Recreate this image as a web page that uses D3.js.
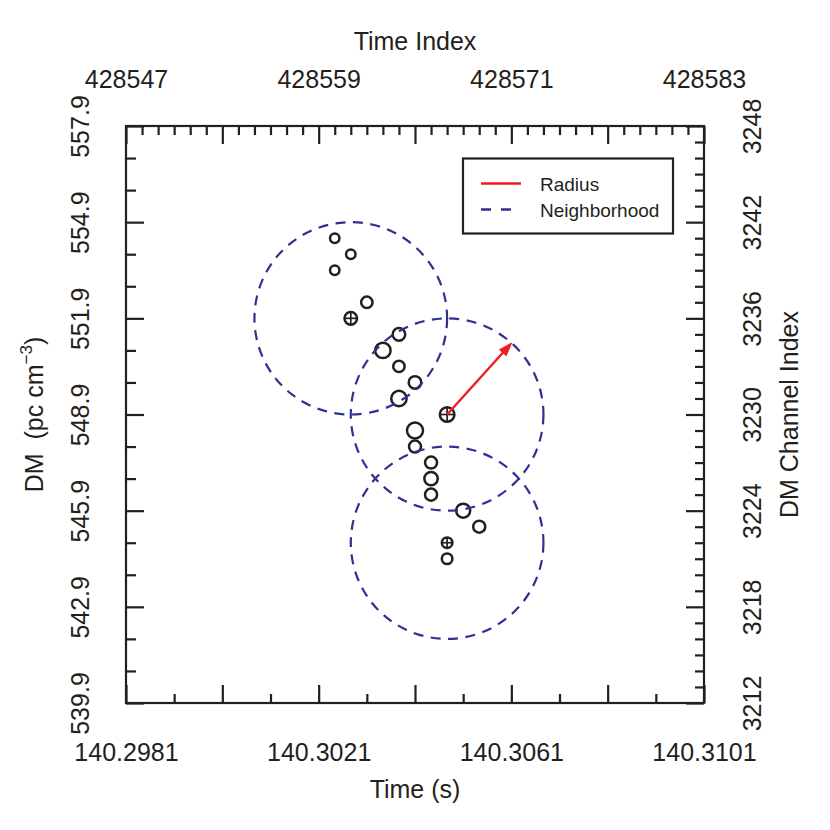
<!DOCTYPE html>
<html><head><meta charset="utf-8">
<script src="https://cdn.jsdelivr.net/npm/d3@7"></script>
<style>
body{margin:0;background:#fff}
text{font-family:"Liberation Sans",Arial,Helvetica,sans-serif;fill:#231f20}
</style>
</head><body>
<svg id="c" width="830" height="830"></svg>
<script>
// ---------- data ----------
const timeIndex = [428560,428561,428560,428562,428561,428564,428563,428564,428565,428564,428567,428565,428565,428566,428566,428566,428568,428569,428567,428567];
const channel   = [3241,3240,3239,3237,3236,3235,3234,3233,3232,3231,3230,3229,3228,3227,3226,3225,3224,3223,3222,3221];
const snr       = [5.25,5.25,5.25,6.5,7.25,7.25,9.0,6.5,7.25,9.0,8.5,9.4,6.9,6.9,7.75,6.9,8.1,6.9,6.0,6.0];
const isCenter  = [false,false,false,false,true,false,false,false,false,false,true,false,false,false,false,false,false,false,true,false];

const centerTimeIndex = [428561,428567,428567];
const centerChannel   = [3236,3230,3222];
const neighborhoodRadius = 6;      // in index units
const radiusCenter = 1;            // which neighborhood shows the radius arrow
const radiusAngleDeg = 48;

const timeDomain    = [140.2981,140.3101];
const dmDomain      = [539.9,557.9];
const indexDomain   = [428547,428583];
const channelDomain = [3212,3248];

const timeTickLabels    = ["140.2981","140.3021","140.3061","140.3101"];
const dmTickLabels      = ["539.9","542.9","545.9","548.9","551.9","554.9","557.9"];
const indexTickLabels   = ["428547","428559","428571","428583"];
const channelTickLabels = ["3212","3218","3224","3230","3236","3242","3248"];
const legendLabels      = ["Radius","Neighborhood"];

// ---------- layout ----------
const L=126, R=704, T=126, B=703;
const ink="#231f20", red="#ed1c24", navy="#2e3192";
const FONT='"Liberation Sans",Arial,Helvetica,sans-serif';
const svg=d3.select("#c");

const x  = d3.scaleLinear().domain(timeDomain).range([L,R]);
const y  = d3.scaleLinear().domain(dmDomain).range([B,T]);
const xi = d3.scaleLinear().domain(indexDomain).range([L,R]);
const yc = d3.scaleLinear().domain(channelDomain).range([B,T]);
const rS = d3.scaleLinear().domain([5,10]).range([4.5,8.5]);

function styleAxis(g){
  g.attr("font-size",25).attr("font-family",FONT).attr("color",ink);
  g.select(".domain").remove();
  g.selectAll(".tick line").attr("stroke-width",2.2);
}

// bottom
const xt=d3.range(13).map(i=>timeDomain[0]+i*0.001);
const gB=svg.append("g").attr("transform",`translate(0,${B})`)
  .call(d3.axisBottom(x).tickValues(xt).tickSize(-9).tickPadding(40)
    .tickFormat((d,i)=> i%4===0 ? timeTickLabels[i/4] : ""));
styleAxis(gB);
gB.selectAll(".tick line").attr("y2",(d,i)=> i%2===0?-18:-9);

// top
const it=d3.range(indexDomain[0],indexDomain[1]+1);
const gT=svg.append("g").attr("transform",`translate(0,${T})`)
  .call(d3.axisTop(xi).tickValues(it).tickSize(-9).tickPadding(38)
    .tickFormat((d,i)=> i%12===0 ? indexTickLabels[i/12] : ""));
styleAxis(gT);
gT.selectAll(".tick line").attr("y2",(d,i)=> i%6===0?18:9);

// left
const yt=d3.range(19).map(i=>dmDomain[0]+i);
const gL=svg.append("g").attr("transform",`translate(${L},0)`)
  .call(d3.axisLeft(y).tickValues(yt).tickSize(-10)
    .tickFormat((d,i)=> i%3===0 ? dmTickLabels[i/3] : ""));
styleAxis(gL);
gL.selectAll(".tick line").attr("x2",(d,i)=> i%3===0?18:10);
gL.selectAll(".tick text").attr("transform","rotate(-90)").attr("x",0).attr("y",-37)
  .attr("dy",0).attr("text-anchor","middle");

// right
const ct=d3.range(channelDomain[0],channelDomain[1]+1);
const gR=svg.append("g").attr("transform",`translate(${R},0)`)
  .call(d3.axisRight(yc).tickValues(ct).tickSize(-9)
    .tickFormat((d,i)=> i%6===0 ? channelTickLabels[i/6] : ""));
styleAxis(gR);
gR.selectAll(".tick line").attr("x2",(d,i)=> i%6===0?-18:-9);
gR.selectAll(".tick text").attr("transform","rotate(-90)").attr("x",0).attr("y",57)
  .attr("dy",0).attr("text-anchor","middle");

// frame
svg.append("rect").attr("x",L).attr("y",T).attr("width",R-L).attr("height",B-T)
  .attr("fill","none").attr("stroke",ink).attr("stroke-width",2.2);

// titles
const cx0=(L+R)/2, cy0=(T+B)/2;
svg.append("text").attr("x",cx0).attr("y",798).attr("text-anchor","middle").attr("font-size",25).text("Time (s)");
svg.append("text").attr("x",cx0).attr("y",50).attr("text-anchor","middle").attr("font-size",25).text("Time Index");
const lt=svg.append("text").attr("transform",`translate(43,${cy0}) rotate(-90)`).attr("text-anchor","middle")
  .attr("font-size",25).style("white-space","pre");
lt.append("tspan").text("DM  (pc cm");
lt.append("tspan").attr("font-size",17).attr("dy",-11).text("\u22123");
lt.append("tspan").attr("dy",11).text(")");
svg.append("text").attr("transform",`translate(798,${cy0}) rotate(-90)`).attr("text-anchor","middle")
  .attr("font-size",25).text("DM Channel Index");

// points
const pts=svg.append("g").attr("fill","none").attr("stroke",ink).attr("stroke-width",2.5);
timeIndex.forEach((t,i)=>{
  const px=xi(t), py=yc(channel[i]), r=rS(snr[i]);
  pts.append("circle").attr("cx",px).attr("cy",py).attr("r",r);
  if(isCenter[i]){
    pts.append("line").attr("x1",px-r).attr("x2",px+r).attr("y1",py).attr("y2",py).attr("stroke-width",1.7);
    pts.append("line").attr("x1",px).attr("x2",px).attr("y1",py-r).attr("y2",py+r).attr("stroke-width",1.7);
  }
});

// neighborhoods
const nb=svg.append("g").attr("fill","none").attr("stroke",navy).attr("stroke-width",2.2).attr("stroke-dasharray","10,7.5");
centerTimeIndex.forEach((t,i)=>{
  const c=centerChannel[i];
  nb.append("ellipse").attr("cx",xi(t)).attr("cy",yc(c))
    .attr("rx",xi(t+neighborhoodRadius)-xi(t)).attr("ry",yc(c-neighborhoodRadius)-yc(c));
});

// radius arrow
{
  const t=centerTimeIndex[radiusCenter], c=centerChannel[radiusCenter];
  const a=radiusAngleDeg*Math.PI/180;
  const x1=xi(t), y1=yc(c);
  const x2=xi(t+neighborhoodRadius*Math.cos(a)), y2=yc(c+neighborhoodRadius*Math.sin(a));
  const dx=x2-x1, dy=y2-y1, len=Math.hypot(dx,dy), ux=dx/len, uy=dy/len;
  const hl=13, hw=4.5;
  const bx=x2-ux*hl, by=y2-uy*hl;
  svg.append("line").attr("x1",x1).attr("y1",y1).attr("x2",x2-ux*2).attr("y2",y2-uy*2)
    .attr("stroke",red).attr("stroke-width",2.4);
  svg.append("path").attr("d",`M${bx-uy*hw},${by+ux*hw}L${x2},${y2}L${bx+uy*hw},${by-ux*hw}Z`)
    .attr("fill",red).attr("stroke",red).attr("stroke-width",1);
}

// legend
const lg=svg.append("g");
lg.append("rect").attr("x",463).attr("y",158.5).attr("width",210).attr("height",75)
  .attr("fill","#fff").attr("stroke",ink).attr("stroke-width",2.2);
lg.append("line").attr("x1",481).attr("x2",521).attr("y1",183.5).attr("y2",183.5)
  .attr("stroke",red).attr("stroke-width",2.4);
lg.append("line").attr("x1",481).attr("x2",511).attr("y1",209.5).attr("y2",209.5)
  .attr("stroke",navy).attr("stroke-width",2.4).attr("stroke-dasharray","10,10");
lg.append("text").attr("x",540).attr("y",190.5).attr("font-size",19).text(legendLabels[0]);
lg.append("text").attr("x",540).attr("y",216.5).attr("font-size",19).text(legendLabels[1]);
</script>
</body></html>
